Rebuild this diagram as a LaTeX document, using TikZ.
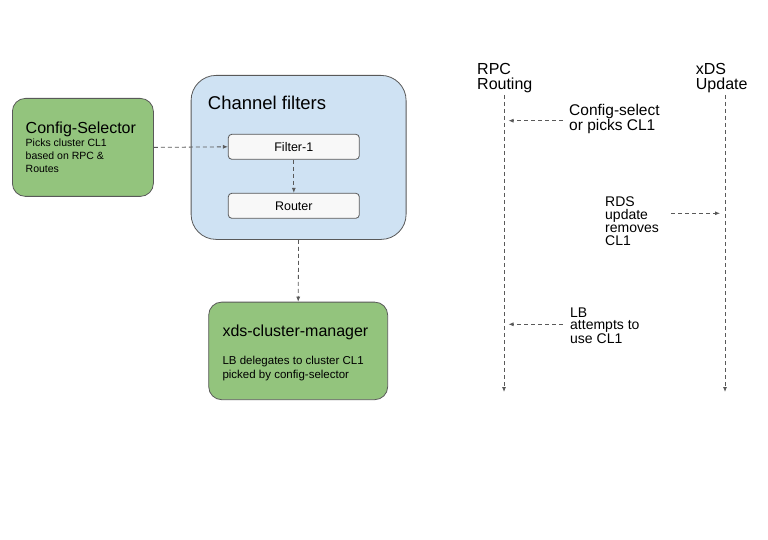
\documentclass[tikz,border=0pt]{standalone}
\usepackage{fontspec}
\setmainfont{Liberation Sans}
\usetikzlibrary{arrows.meta}
\definecolor{selgreen}{HTML}{93C47D}
\definecolor{filterblue}{HTML}{CFE2F3}
\definecolor{edgegray}{HTML}{595959}
\definecolor{stagewhite}{HTML}{F8F8F8}
\tikzstyle{greenbox} = [draw=edgegray, fill=selgreen, line width=0.8pt, rounded corners=13pt, inner sep=0pt, anchor=north west]
\tikzstyle{bluebox} = [draw=edgegray, fill=filterblue, line width=0.8pt, rounded corners=25pt, inner sep=0pt, anchor=north west]
\tikzstyle{stagebox} = [draw=edgegray, fill=stagewhite, line width=0.8pt, rounded corners=3.5pt, inner sep=0pt, minimum width=131pt, minimum height=25pt, font=\fontsize{12.5}{14}\selectfont]
\tikzstyle{label} = [inner sep=0pt, anchor=base west, align=left]
\tikzstyle{flow} = [draw=edgegray, line width=0.8pt, dash pattern=on 4pt off 3pt, -{Latex[length=5pt,width=4pt]}]

\begin{document}
\begin{tikzpicture}[x=1pt,y=-1pt]
	\useasboundingbox (0,0) rectangle (768,540);
	% left side: boxes
	\node[greenbox, minimum width=141pt, minimum height=98pt] (selector) at (12,98) {};
	\node[label, font=\fontsize{16}{18}\selectfont] (selectortitle) at (25.5,133.3) {Config-Selector};
	\node[label, font=\fontsize{10.5}{13}\selectfont] (selectortext) at (25.5,172.7) {Picks cluster CL1\\based on RPC \&\\Routes};
	\node[bluebox, minimum width=215pt, minimum height=164pt] (channel) at (190.7,75) {};
	\node[label, font=\fontsize{18.5}{20}\selectfont] (channeltitle) at (207.7,109.3) {Channel filters};
	\node[stagebox] (filterone) at (293.8,146.8) {Filter-1};
	\node[stagebox] (router) at (293.8,205.8) {Router};
	\node[greenbox, minimum width=179pt, minimum height=97.6pt] (manager) at (208.3,301.7) {};
	\node[label, font=\fontsize{16}{18}\selectfont] (managertitle) at (222.3,336.7) {xds-cluster-manager};
	\node[label, font=\fontsize{11.5}{13.4}\selectfont] (managertext) at (222.3,378.3) {LB delegates to cluster CL1\\picked by config-selector};
	\draw[flow] (selector.east) -- (filterone.west);
	\draw[flow] (filterone.south) -- (router.north);
	\draw[flow] (channel.south) -- (manager.north);
	% right side: sequence
	\node[label, font=\fontsize{16}{15}\selectfont] (rpchead) at (477,90) {RPC\\Routing};
	\node[label, font=\fontsize{16}{15}\selectfont] (xdshead) at (695.7,90) {xDS\\Update};
	\coordinate (rpctop) at (504,95);
	\coordinate (rpcend) at (504,392);
	\coordinate (xdstop) at (725,95);
	\coordinate (xdsend) at (725,392);
	\draw[flow] (rpctop) -- (rpcend);
	\draw[flow] (xdstop) -- (xdsend);
	\node[label, font=\fontsize{15.5}{11.5}\selectfont] (pickmsg) at (569,130.8) {Config-select\\or picks CL1};
	\node[label, font=\fontsize{14}{12.7}\selectfont] (rdsmsg) at (605,245) {RDS\\update\\removes\\CL1};
	\node[label, font=\fontsize{14}{12.5}\selectfont] (lbmsg) at (570,343.3) {LB\\attempts to\\use CL1};
	\coordinate (pickfrom) at (562.7,120.7);
	\coordinate (pickto) at (508.5,120.7);
	\coordinate (rdsfrom) at (671,213.3);
	\coordinate (rdsto) at (720,213.3);
	\coordinate (lbfrom) at (562.7,324.3);
	\coordinate (lbto) at (508.5,324.3);
	\draw[flow] (pickfrom) -- (pickto);
	\draw[flow] (rdsfrom) -- (rdsto);
	\draw[flow] (lbfrom) -- (lbto);
\end{tikzpicture}
\end{document}
